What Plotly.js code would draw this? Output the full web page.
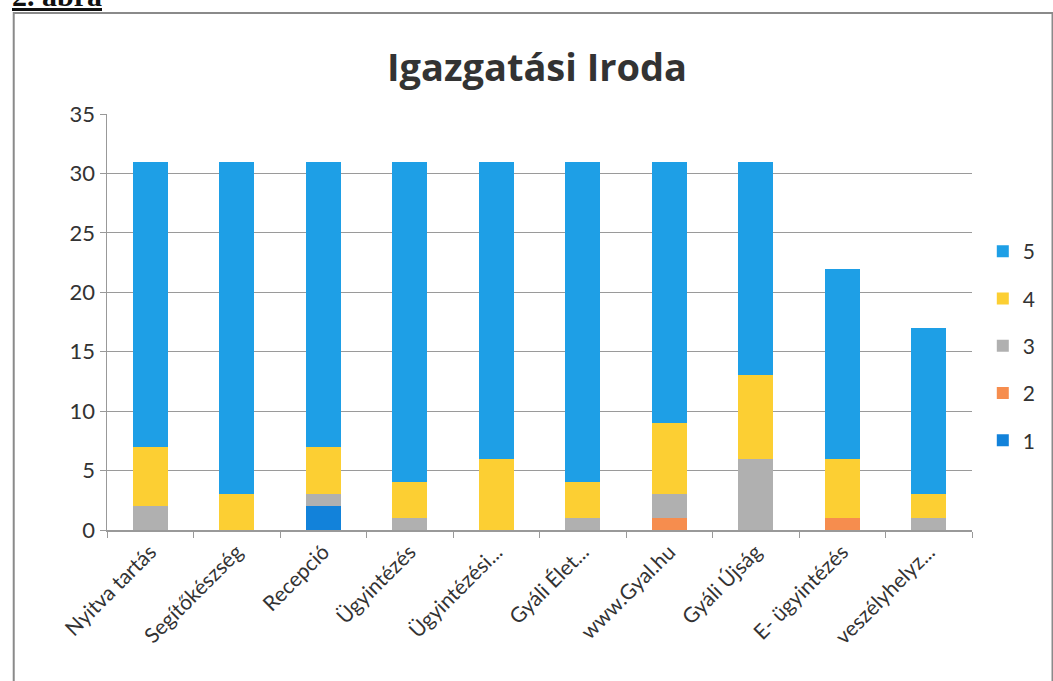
<!DOCTYPE html>
<html>
<head>
<meta charset="utf-8">
<script src="https://cdn.plot.ly/plotly-3.0.1.min.js"></script>
<style>html,body{margin:0;padding:0;background:#fff;}#chart{width:1053px;height:681px;}</style>
</head>
<body>
<div id="chart"></div>
<script>
const categories = ["Nyitva tartás","Segítőkészség","Recepció","Ügyintézés","Ügyintézési...","Gyáli Élet...","www.Gyal.hu","Gyáli Újság","E- ügyintézés","veszélyhelyz..."];
const seriesNames = ["1","2","3","4","5"];
const s1 = [0,0,2,0,0,0,0,0,0,0];
const s2 = [0,0,0,0,0,0,1,0,1,0];
const s3 = [2,0,1,1,0,1,2,6,0,1];
const s4 = [5,3,4,3,6,3,6,7,5,2];
const s5 = [24,28,24,27,25,27,22,18,16,14];
const yTicks = [0,5,10,15,20,25,30,35];
const colors = ["#1282da","#f68d4e","#b0b0b0","#fccf33","#1e9fe6"];

const values = [s1,s2,s3,s4,s5];
const traces = values.map((v,i)=>({
  type:"bar", name:seriesNames[i], x:categories, y:v,
  marker:{color:colors[i]}, legendgroup:"g"+i, legendrank:10-i,
  hoverinfo:"x+y+name"
}));

const L=107, R=988, T=114, B=530, W=1053, H=681;
const px = x => (x-L)/(R-L);
const py = y => (B-y)/(B-T);

const layout = {
  width:W, height:H,
  margin:{l:L, r:W-R, t:T, b:H-B, pad:0},
  barmode:"stack", bargap:0.6,
  paper_bgcolor:"#fff", plot_bgcolor:"#fff",
  font:{family:"Lato, 'Open Sans', sans-serif", color:"#333"},
  title:{text:"<b>Igazgatási Iroda</b>", x:0.51, xanchor:"center", y:1-(68/H), yanchor:"middle",
         font:{size:38, family:"'Open Sans', Lato, sans-serif", color:"#333"}},
  xaxis:{type:"category", tickangle:-45, tickson:"boundaries", ticks:"outside", ticklen:6,
         tickcolor:"#999", showline:true, linecolor:"#999", linewidth:1.5, showgrid:false,
         tickfont:{size:21, color:"#333"}, automargin:false},
  yaxis:{range:[0,35], tickvals:yTicks, ticks:"outside", ticklen:6, tickcolor:"#999",
         showline:true, linecolor:"#999", linewidth:1.5, gridcolor:"#9a9a9a", gridwidth:1,
         tickfont:{size:22, color:"#333"}, zeroline:false, automargin:false},
  legend:{x:px(999), y:py(231), xanchor:"left", yanchor:"top", traceorder:"grouped",
          tracegroupgap:17, font:{size:21, color:"#333"}, bgcolor:"rgba(0,0,0,0)", itemwidth:30},
  shapes:[
    {type:"rect", xref:"paper", yref:"paper", x0:px(12), x1:px(1070), y0:py(700), y1:py(13),
     line:{color:"#8a8a8a", width:2}, fillcolor:"rgba(0,0,0,0)", layer:"below"}
  ],
  annotations:[
    {text:"<b><u>2. ábra</u></b>", xref:"paper", yref:"paper", x:px(8), y:py(14),
     xanchor:"left", yanchor:"bottom", showarrow:false,
     font:{family:"'Liberation Serif', 'DejaVu Serif', serif", size:30, color:"#111"}}
  ],
  showlegend:true
};

Plotly.newPlot("chart", traces, layout, {displayModeBar:false, staticPlot:true});
</script>
</body>
</html>
